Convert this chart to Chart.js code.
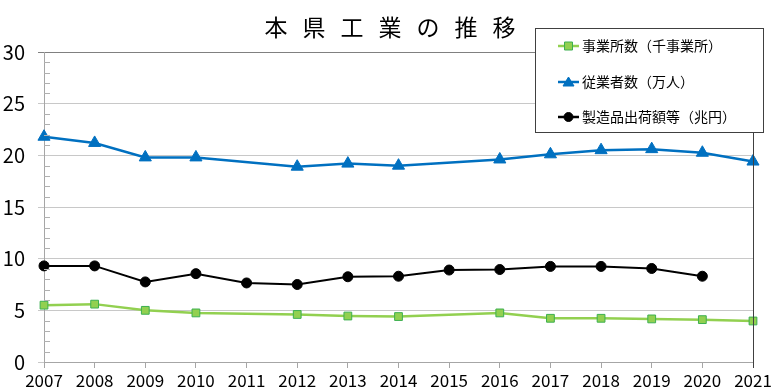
<!DOCTYPE html>
<html>
<head>
<meta charset="utf-8">
<script src="https://cdn.jsdelivr.net/npm/chart.js@4.4.1/dist/chart.umd.min.js"></script>
<style>
  html, body { margin: 0; padding: 0; background: #fff; }
  #wrap { width: 778px; height: 392px; }
</style>
</head>
<body>
<div id="wrap"><canvas id="chart"></canvas></div>
<script>
const years = ['2007', '2008', '2009', '2010', '2011', '2012', '2013',
  '2014', '2015', '2016', '2017', '2018', '2019', '2020', '2021'];
const establishments = [5.5, 5.6, 5.0, 4.75, null, 4.6, 4.45,
  4.4, null, 4.75, 4.23, 4.23, 4.17, 4.1, 3.97];
const employees = [21.8, 21.2, 19.8, 19.8, null, 18.9, 19.2,
  19.0, null, 19.6, 20.1, 20.5, 20.6, 20.25, 19.4];
const shipments = [9.3, 9.3, 7.75, 8.55, 7.65, 7.5, 8.25,
  8.3, 8.9, 8.95, 9.25, 9.25, 9.05, 8.3, null];
const seriesNames = ['事業所数（千事業所）', '従業者数（万人）', '製造品出荷額等（兆円）'];
const titleText = '本県工業の推移';

const jpFont = '"Noto Sans CJK JP", "Noto Sans", sans-serif';

// title, legend box, minor ticks and right border
const decorations = {
  id: 'decorations',
  afterDraw(chart) {
    const ctx = chart.ctx;
    const area = chart.chartArea;
    const yScale = chart.scales.y;

    ctx.save();
    // minor ticks on the y axis
    ctx.strokeStyle = '#b0b0b0';
    ctx.lineWidth = 1;
    for (let v = 1; v < 30; v++) {
      if (v % 5 === 0) continue;
      const y = Math.round(yScale.getPixelForValue(v)) + 0.5;
      ctx.beginPath();
      ctx.moveTo(area.left, y);
      ctx.lineTo(area.left + 6, y);
      ctx.stroke();
    }

    // right border
    ctx.strokeStyle = '#404040';
    ctx.beginPath();
    ctx.moveTo(Math.round(area.right) + 0.5, area.top);
    ctx.lineTo(Math.round(area.right) + 0.5, area.bottom + 6);
    ctx.stroke();

    // title
    ctx.fillStyle = '#000';
    ctx.font = '23px ' + jpFont;
    ctx.textBaseline = 'middle';
    ctx.textAlign = 'left';
    ctx.letterSpacing = '15px';
    const w = ctx.measureText(titleText).width - 15;
    ctx.fillText(titleText, 390 - w / 2, 27);
    ctx.letterSpacing = '0px';

    // legend
    const lx = 535.5, ly = 28.5, lw = 228, lh = 104;
    ctx.fillStyle = '#fff';
    ctx.fillRect(lx, ly, lw, lh);
    ctx.strokeStyle = '#404040';
    ctx.strokeRect(lx, ly, lw, lh);
    const rows = [46, 82, 117];
    chart.data.datasets.forEach((ds, i) => {
      const y = rows[i];
      ctx.strokeStyle = ds.borderColor;
      ctx.lineWidth = 2.5;
      ctx.beginPath();
      ctx.moveTo(558, y);
      ctx.lineTo(579, y);
      ctx.stroke();
      ctx.fillStyle = ds.pointBackgroundColor;
      ctx.strokeStyle = ds.pointBorderColor;
      ctx.lineWidth = 1;
      const cx = 568.5;
      ctx.beginPath();
      if (ds.pointStyle === 'rect') {
        ctx.rect(cx - 4, y - 4, 8, 8);
      } else if (ds.pointStyle === 'triangle') {
        ctx.moveTo(cx, y - 5);
        ctx.lineTo(cx + 5.5, y + 4);
        ctx.lineTo(cx - 5.5, y + 4);
        ctx.closePath();
      } else {
        ctx.arc(cx, y, 4.5, 0, Math.PI * 2);
      }
      ctx.fill();
      ctx.stroke();
      ctx.fillStyle = '#000';
      ctx.font = '14px ' + jpFont;
      ctx.textBaseline = 'middle';
      ctx.fillText(ds.label, 582, y);
    });
    ctx.restore();
  },
};

const ctx = document.getElementById('chart').getContext('2d');
new Chart(ctx, {
  type: 'line',
  data: {
    labels: years,
    datasets: [
      {
        label: seriesNames[0],
        data: establishments,
        borderColor: '#92d050',
        backgroundColor: '#92d050',
        borderWidth: 2.5,
        pointStyle: 'rect',
        pointRadius: 5.5,
        pointBackgroundColor: '#92d050',
        pointBorderColor: '#3cb050',
        pointBorderWidth: 1,
        spanGaps: true,
        tension: 0,
      },
      {
        label: seriesNames[1],
        data: employees,
        borderColor: '#0070c0',
        backgroundColor: '#0070c0',
        borderWidth: 2.5,
        pointStyle: 'triangle',
        pointRadius: 7,
        pointBackgroundColor: '#0070c0',
        pointBorderColor: '#0070c0',
        pointBorderWidth: 1,
        spanGaps: true,
        tension: 0,
      },
      {
        label: seriesNames[2],
        data: shipments,
        borderColor: '#000000',
        backgroundColor: '#000000',
        borderWidth: 2,
        pointStyle: 'circle',
        pointRadius: 5,
        pointBackgroundColor: '#000000',
        pointBorderColor: '#000000',
        pointBorderWidth: 1,
        spanGaps: false,
        tension: 0,
      },
    ],
  },
  options: {
    responsive: true,
    maintainAspectRatio: false,
    animation: false,
    events: [],
    layout: {
      padding: { top: 52, right: 25, left: 0, bottom: 0 },
    },
    plugins: {
      legend: { display: false },
      title: { display: false },
      tooltip: { enabled: false },
    },
    scales: {
      x: {
        offset: false,
        afterFit(scale) { scale.height = 30; },
        grid: {
          drawOnChartArea: false,
          drawTicks: true,
          tickLength: 6,
          color: '#a6a6a6',
        },
        border: { color: '#a6a6a6' },
        ticks: {
          color: '#000',
          padding: 2,
          maxRotation: 0,
          autoSkip: false,
          font: { family: jpFont, size: 17 },
        },
      },
      y: {
        min: 0,
        max: 30,
        afterFit(scale) { scale.width = 44; },
        grid: {
          color(c) { return c.tick && c.tick.value === 30 ? '#808080' : '#c8c8c8'; },
          tickLength: 6,
        },
        border: { color: '#a6a6a6' },
        ticks: {
          stepSize: 5,
          color: '#000',
          padding: 13,
          font: { family: jpFont, size: 20 },
        },
      },
    },
  },
  plugins: [decorations],
});
</script>
</body>
</html>
